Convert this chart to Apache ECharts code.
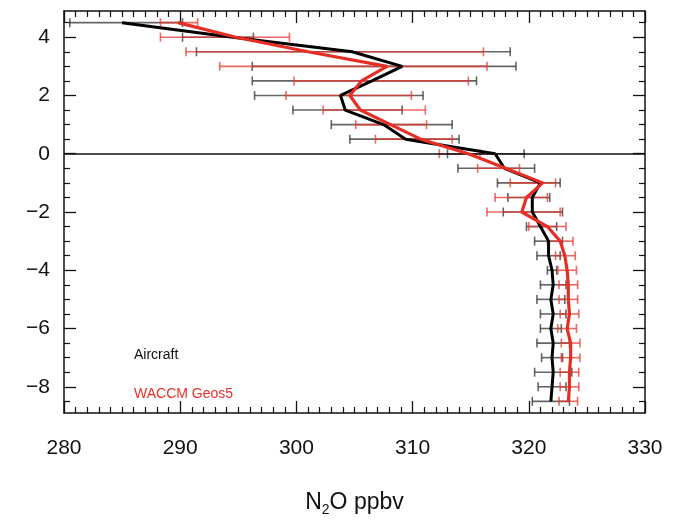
<!doctype html>
<html lang="en">
<head>
<meta charset="UTF-8">
<title>N2O profile</title>
<script src="https://cdn.jsdelivr.net/npm/echarts@6/dist/echarts.min.js"></script>
<style>
  html, body { margin: 0; padding: 0; background: #fff; }
  #chart { width: 684px; height: 523px; }
</style>
</head>
<body>
<div id="chart"></div>
<script>
// altitude levels (km relative to tropopause)
var levels = [4.5, 4.0, 3.5, 3.0, 2.5, 2.0, 1.5, 1.0, 0.5, 0.0, -0.5, -1.0, -1.5, -2.0,
  -2.5, -3.0, -3.5, -4.0, -4.5, -5.0, -5.5, -6.0, -6.5, -7.0, -7.5, -8.0, -8.5];

// Aircraft: mean, low and high end of error bar
var airMean = [285.0, 294.5, 304.8, 309.1, 306.5, 303.8, 304.2, 307.5, 309.4, 317.1, 317.9, 321.0, 320.3, 320.3,
  321.0, 321.7, 321.7, 322.0, 322.1, 321.9, 322.1, 321.9, 322.1, 322.0, 322.1, 322.0, 321.9];
var airLow = [280.5, 290.2, 291.4, 296.2, 296.2, 296.4, 299.7, 303.0, 304.6, 313.0, 313.9, 317.3, 318.2, 317.8,
  319.8, 320.5, 320.7, 321.6, 321.0, 320.7, 321.0, 321.0, 320.7, 321.1, 320.5, 320.8, 320.3];
var airHigh = [290.2, 296.3, 318.4, 318.9, 315.5, 310.9, 309.1, 313.4, 314.0, 319.6, 320.5, 322.7, 321.8, 322.9,
  322.4, 322.9, 322.7, 322.4, 323.2, 323.1, 323.2, 322.8, 323.5, 322.9, 323.7, 323.2, 323.5];

// WACCM Geos5: mean, low and high end of error bar
var wacMean = [289.8, 294.8, 301.0, 307.8, 305.6, 304.6, 305.5, 308.1, 310.7, 314.8, 318.0, 321.2, 319.8, 319.4,
  321.6, 322.7, 323.1, 323.3, 323.4, 323.4, 323.5, 323.3, 323.6, 323.6, 323.5, 323.5, 323.4];
var wacLow = [288.3, 288.3, 290.5, 293.4, 299.8, 299.1, 302.3, 305.1, 306.8, 312.3, 315.6, 318.4, 317.1, 316.4,
  320.0, 321.6, 322.3, 322.5, 322.6, 322.6, 322.7, 322.5, 322.8, 322.8, 322.7, 322.7, 322.6];
var wacHigh = [291.5, 299.4, 316.1, 316.4, 314.8, 309.9, 311.1, 311.2, 313.4, 315.8, 319.2, 322.3, 321.6, 322.7,
  323.2, 323.8, 324.0, 324.1, 324.2, 324.2, 324.3, 324.1, 324.4, 324.4, 324.3, 324.3, 324.2];

var xTicks = [280, 290, 300, 310, 320, 330];
var yTicks = [-8, -6, -4, -2, 0, 2, 4];
var yMinor = [-8.5, -7.5, -7, -6.5, -5.5, -5, -4.5, -3.5, -3, -2.5, -1.5, -1, -0.5, 0.5, 1, 1.5, 2.5, 3, 3.5, 4.5];

function pairs(xs) {
  return levels.map(function (a, i) { return [xs[i], a]; });
}
function bars(lo, hi) {
  return levels.map(function (a, i) { return [lo[i], hi[i], a]; });
}

function errorBar(color, opacity) {
  return function (params, api) {
    var p1 = api.coord([api.value(0), api.value(2)]);
    var p2 = api.coord([api.value(1), api.value(2)]);
    var h = 4.5;
    var style = { stroke: color, lineWidth: 1.6, opacity: opacity };
    return {
      type: 'group',
      children: [
        { type: 'line', shape: { x1: p1[0], y1: p1[1], x2: p2[0], y2: p2[1] }, style: style },
        { type: 'line', shape: { x1: p1[0], y1: p1[1] - h, x2: p1[0], y2: p1[1] + h }, style: style },
        { type: 'line', shape: { x1: p2[0], y1: p2[1] - h, x2: p2[0], y2: p2[1] + h }, style: style }
      ]
    };
  };
}

var font = 'Liberation Sans, Arial, Helvetica, sans-serif';
var axisLine = { show: true, onZero: false, lineStyle: { color: '#111', width: 1.5 } };

var chart = echarts.init(document.getElementById('chart'));
chart.setOption({
  animation: false,
  backgroundColor: '#fff',
  grid: { left: 64, right: 39, top: 11, bottom: 110 },
  xAxis: [
    {
      type: 'value', min: 280, max: 330, position: 'bottom',
      axisLine: axisLine,
      axisTick: { show: true, inside: true, length: 12, customValues: xTicks, lineStyle: { color: '#111', width: 1.3 } },
      minorTick: { show: true, splitNumber: 10, length: 6, lineStyle: { color: '#111', width: 1.2 } },
      axisLabel: { customValues: xTicks, color: '#111', fontSize: 21, fontFamily: font, margin: 25 },
      splitLine: { show: false },
      name: '{a|N}{s|2}{a|O ppbv}', nameLocation: 'middle', nameGap: 76,
      nameTextStyle: { rich: { a: { fontSize: 23, fontFamily: font, color: '#111' }, s: { fontSize: 14, fontFamily: font, color: '#111', verticalAlign: 'bottom', padding: [14, 0, 0, 0] } } }
    },
    {
      type: 'value', min: 280, max: 330, position: 'top',
      axisLine: axisLine,
      axisTick: { show: true, inside: true, length: 12, customValues: xTicks, lineStyle: { color: '#111', width: 1.3 } },
      minorTick: { show: true, splitNumber: 10, length: 6, lineStyle: { color: '#111', width: 1.2 } },
      axisLabel: { show: false },
      splitLine: { show: false }
    }
  ],
  yAxis: [
    {
      type: 'value', min: -8.9, max: 4.9, position: 'left',
      axisLine: axisLine,
      axisTick: { show: true, inside: true, length: 12, customValues: yTicks, lineStyle: { color: '#111', width: 1.3 } },
      axisLabel: {
        customValues: yTicks, color: '#111', fontSize: 21, fontFamily: font, margin: 14,
        formatter: function (v) { return String(v).replace('-', '\u2212'); }
      },
      splitLine: { show: false }
    },
    {
      type: 'value', min: -8.9, max: 4.9, position: 'left',
      axisLine: { show: false, onZero: false },
      axisTick: { show: true, inside: true, length: 6, customValues: yMinor, lineStyle: { color: '#111', width: 1.2 } },
      axisLabel: { show: false },
      splitLine: { show: false }
    },
    {
      type: 'value', min: -8.9, max: 4.9, position: 'right',
      axisLine: axisLine,
      axisTick: { show: true, inside: true, length: 12, customValues: yTicks, lineStyle: { color: '#111', width: 1.3 } },
      axisLabel: { show: false },
      splitLine: { show: false }
    },
    {
      type: 'value', min: -8.9, max: 4.9, position: 'right',
      axisLine: { show: false, onZero: false },
      axisTick: { show: true, inside: true, length: 6, customValues: yMinor, lineStyle: { color: '#111', width: 1.2 } },
      axisLabel: { show: false },
      splitLine: { show: false }
    }
  ],
  series: [
    {
      type: 'custom', name: 'Aircraft bars', renderItem: errorBar('#333', 0.75),
      data: bars(airLow, airHigh), encode: { x: [0, 1], y: 2 }, z: 2, silent: true
    },
    {
      type: 'custom', name: 'WACCM bars', renderItem: errorBar('#e8382e', 0.75),
      data: bars(wacLow, wacHigh), encode: { x: [0, 1], y: 2 }, z: 3, silent: true
    },
    {
      type: 'line', name: 'Aircraft', data: pairs(airMean), showSymbol: false,
      lineStyle: { color: '#000', width: 3 }, z: 4,
      markLine: {
        silent: true, symbol: 'none', label: { show: false },
        lineStyle: { color: '#111', width: 1.5, type: 'solid' },
        data: [{ yAxis: 0 }]
      }
    },
    {
      type: 'line', name: 'WACCM Geos5', data: pairs(wacMean), showSymbol: false,
      lineStyle: { color: '#e62e24', width: 3.2 }, z: 5
    }
  ],
  graphic: [
    { type: 'text', left: 134, top: 348, style: { text: 'Aircraft', fill: '#111', font: '14px ' + font } },
    { type: 'text', left: 134, top: 387, style: { text: 'WACCM Geos5', fill: '#e8302a', font: '14px ' + font } }
  ]
});
</script>
</body>
</html>
